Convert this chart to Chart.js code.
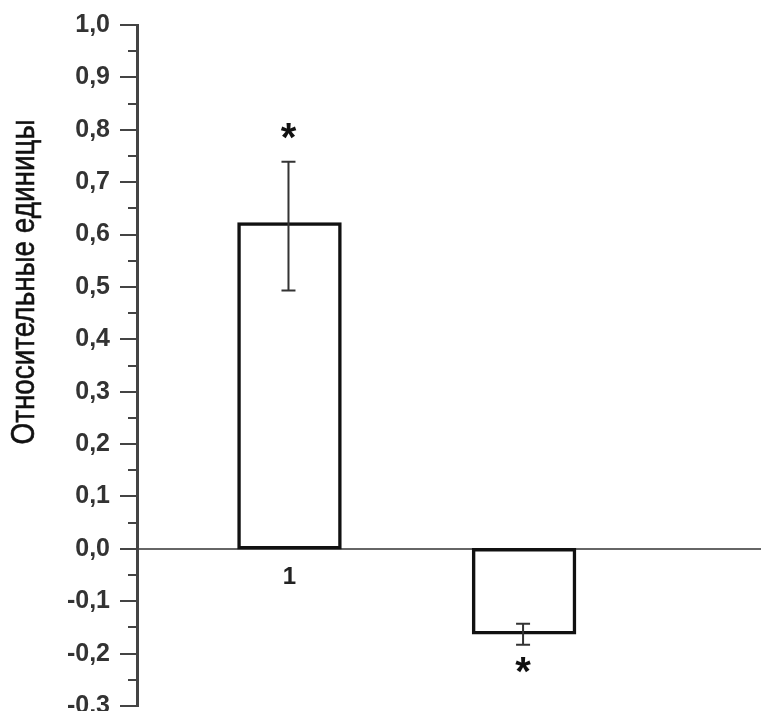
<!DOCTYPE html>
<html>
<head>
<meta charset="utf-8">
<script src="https://cdn.jsdelivr.net/npm/chart.js@4.4.1/dist/chart.umd.min.js"></script>
<style>
  html, body { margin: 0; padding: 0; background: #fff; }
  #wrap { width: 761px; height: 711px; }
</style>
</head>
<body>
<div id="wrap"><canvas id="c" width="761" height="711"></canvas></div>
<script>
// ---- data ----
const categories = ['1', ''];
const xPositions = [1, 2];
const values = [0.62, -0.16];
const errLow = [0.493, -0.183];
const errHigh = [0.739, -0.143];
const starY = [0.795, -0.224];
const starText = ['*', '*'];
const yTitle = 'Относительные единицы';
const yMin = -0.3, yMax = 1.0, yStep = 0.1;

function fmt(v) {
  if (Math.abs(v) < 1e-9) v = 0;
  return v.toFixed(1).replace('.', ',');
}

const overlay = {
  id: 'overlay',
  afterDatasetsDraw(chart) {
    const ctx = chart.ctx;
    const xs = chart.scales.x, ys = chart.scales.y;
    ctx.save();
    // error bars
    ctx.strokeStyle = '#333';
    ctx.lineWidth = 2;
    for (let i = 0; i < values.length; i++) {
      const x = xs.getPixelForValue(xPositions[i]) - 1;
      const yl = ys.getPixelForValue(errLow[i]);
      const yh = ys.getPixelForValue(errHigh[i]);
      ctx.beginPath();
      ctx.moveTo(x, yl); ctx.lineTo(x, yh);
      ctx.moveTo(x - 7, yl); ctx.lineTo(x + 7, yl);
      ctx.moveTo(x - 7, yh); ctx.lineTo(x + 7, yh);
      ctx.stroke();
    }
    // asterisks
    ctx.fillStyle = '#111';
    ctx.font = 'bold 40px "Liberation Sans", Arial, sans-serif';
    ctx.textAlign = 'center';
    ctx.textBaseline = 'middle';
    for (let i = 0; i < starY.length; i++) {
      const x = xs.getPixelForValue(xPositions[i]) - 1;
      const y = ys.getPixelForValue(starY[i]);
      ctx.fillText(starText[i], x, y + 8);
    }
    ctx.restore();
  },
  afterDraw(chart) {
    const ctx = chart.ctx;
    const ys = chart.scales.y;
    const axisX = chart.chartArea.left;
    ctx.save();
    // minor ticks
    ctx.strokeStyle = '#444';
    ctx.lineWidth = 2;
    for (let v = yMin + yStep / 2; v < yMax; v += yStep) {
      const y = Math.round(ys.getPixelForValue(v));
      ctx.beginPath();
      ctx.moveTo(axisX - 9, y); ctx.lineTo(axisX, y);
      ctx.stroke();
    }
    // y title
    ctx.fillStyle = '#111';
    ctx.font = '500 33px "Liberation Sans Narrow", "Arial Narrow", "Liberation Sans", Arial, sans-serif';
    ctx.textAlign = 'center';
    ctx.textBaseline = 'middle';
    const w = ctx.measureText(yTitle).width;
    ctx.translate(25, 282);
    ctx.rotate(-Math.PI / 2);
    ctx.scale(325 / w, 1);
    ctx.lineWidth = 0.6;
    ctx.strokeStyle = '#111';
    ctx.strokeText(yTitle, 0, 0);
    ctx.fillText(yTitle, 0, 0);
    ctx.restore();
  }
};

new Chart(document.getElementById('c'), {
  type: 'bar',
  data: {
    datasets: [{
      data: values.map((v, i) => ({ x: xPositions[i], y: v })),
      backgroundColor: '#ffffff',
      borderColor: '#111111',
      borderWidth: 3.5,
      borderSkipped: false,
      inflateAmount: 1.75,
      barThickness: 101
    }]
  },
  options: {
    responsive: false,
    animation: false,
    events: [],
    layout: { padding: { top: 25, bottom: 5, left: 0, right: 0 } },
    plugins: { legend: { display: false }, tooltip: { enabled: false } },
    scales: {
      x: {
        type: 'linear',
        min: 0.35,
        max: 3.01,
        offset: false,
        position: { y: 0 },
        grid: { display: false, drawTicks: false, offset: false },
        border: { display: true, color: '#666', width: 2 },
        afterBuildTicks(scale) { scale.ticks = xPositions.map(v => ({ value: v })); },
        ticks: {
          padding: 14,
          color: '#222',
          font: { family: '"Liberation Sans", Arial, sans-serif', size: 24, weight: 'bold' },
          callback: (v, i) => categories[i]
        }
      },
      y: {
        min: yMin,
        max: yMax,
        ticks: {
          stepSize: yStep,
          padding: 10,
          color: '#333',
          font: { family: '"Liberation Sans", Arial, sans-serif', size: 25, weight: 'bold' },
          callback: v => fmt(v)
        },
        grid: { drawOnChartArea: false, drawTicks: true, tickLength: 17, color: '#444', lineWidth: 2 },
        border: { display: true, color: '#444', width: 3 },
        afterFit(scale) { scale.width = 137; scale.paddingTop = 0; scale.paddingBottom = 0; }
      }
    }
  },
  plugins: [overlay]
});
</script>
</body>
</html>
